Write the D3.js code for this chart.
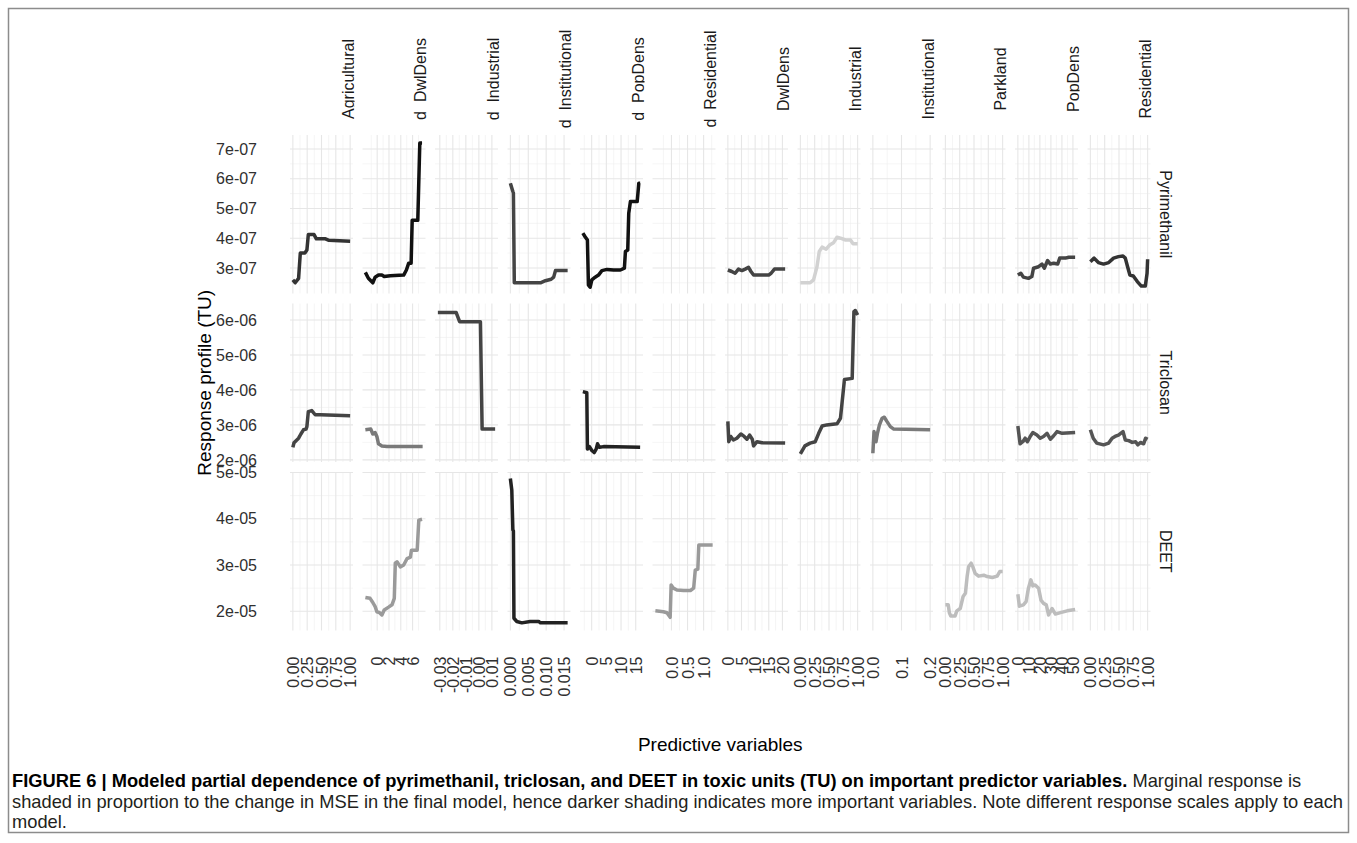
<!DOCTYPE html>
<html><head><meta charset="utf-8">
<script src="https://cdn.jsdelivr.net/npm/d3@7"></script>
<style>body{margin:0;background:#fff}svg{display:block}</style>
</head><body>
<script>
// ---------- categories / labels ----------
const columns = ["Agricultural","d  DwlDens","d  Industrial","d  Institutional","d  PopDens","d  Residential",
                 "DwlDens","Industrial","Institutional","Parkland","PopDens","Residential"];
const rowNames = ["Pyrimethanil","Triclosan","DEET"];

// x data ranges per column (predictor values)
const xRanges = [[0,1],[-2,7.7],[-0.0315,0.0125],[0,0.016],[-3,16.5],[-0.5,1.28],
                 [0,21],[0,1],[0,0.2],[0,1],[0,52],[0,1]];
const xTicks = [[0,0.25,0.5,0.75,1],[0,2,4,6],[-0.03,-0.02,-0.01,0,0.01],[0,0.005,0.01,0.015],[0,5,10,15],[0,0.5,1],
                [0,5,10,15,20],[0,0.25,0.5,0.75,1],[0,0.1,0.2],[0,0.25,0.5,0.75,1],[0,10,20,30,40,50],[0,0.25,0.5,0.75,1]];
const xTickLabels = [["0.00","0.25","0.50","0.75","1.00"],["0","2","4","6"],["-0.03","-0.02","-0.01","0.00","0.01"],
                     ["0.000","0.005","0.010","0.015"],["0","5","10","15"],["0.0","0.5","1.0"],
                     ["0","5","10","15","20"],["0.00","0.25","0.50","0.75","1.00"],["0.0","0.1","0.2"],
                     ["0.00","0.25","0.50","0.75","1.00"],["0","10","20","30","40","50"],["0.00","0.25","0.50","0.75","1.00"]];

// y limits / ticks per row (response, TU)
const yLimits = [[2.14e-7,7.47e-7],[1.94e-6,6.47e-6],[1.585e-5,5.01e-5]];
const yTicks = [[3e-7,4e-7,5e-7,6e-7,7e-7],[2e-6,3e-6,4e-6,5e-6,6e-6],[2e-5,3e-5,4e-5,5e-5]];
const yTickLabels = [["3e-07","4e-07","5e-07","6e-07","7e-07"],["2e-06","3e-06","4e-06","5e-06","6e-06"],["2e-05","3e-05","4e-05","5e-05"]];

// ---------- series values ----------
// Pyrimethanil
const pyrAgricultural_x = [0,0.04,0.1,0.13,0.21,0.245,0.27,0.37,0.41,0.57,0.63,1.0];
const pyrAgricultural_y = [2.6e-7,2.5e-7,2.65e-7,3.5e-7,3.5e-7,3.6e-7,4.12e-7,4.12e-7,3.98e-7,3.98e-7,3.93e-7,3.9e-7];
const pyrdDwlDens_x = [-2,-1.49,-0.74,-0.34,0.22,0.8,1.19,2.22,4.49,4.95,5.34,5.75,5.93,6.88,7.22,7.6];
const pyrdDwlDens_y = [2.85e-7,2.65e-7,2.5e-7,2.69e-7,2.76e-7,2.76e-7,2.71e-7,2.74e-7,2.76e-7,2.93e-7,3.16e-7,3.16e-7,4.6e-7,4.6e-7,7.2e-7,7.2e-7];
const pyrdInstitutional_x = [0,0.0007,0.00085,0.0011,0.0084,0.0098,0.0114,0.0121,0.0126,0.016];
const pyrdInstitutional_y = [5.85e-7,5.57e-7,5.52e-7,2.5e-7,2.5e-7,2.57e-7,2.62e-7,2.69e-7,2.91e-7,2.91e-7];
const pyrdPopDens_x = [-3,-2.24,-1.45,-1.11,-0.53,0.06,1.19,2.32,3.49,5.2,7.47,9.77,11.14,11.49,12.28,12.62,13.2,15.5,16.05,16.5];
const pyrdPopDens_y = [4.17e-7,4.05e-7,3.94e-7,2.43e-7,2.35e-7,2.6e-7,2.69e-7,2.76e-7,2.91e-7,2.95e-7,2.93e-7,2.93e-7,2.99e-7,3.55e-7,3.6e-7,4.84e-7,5.23e-7,5.23e-7,5.85e-7,5.85e-7];
const pyrDwlDens_x = [0,1.44,2.66,3.88,5.14,6.36,7.58,8.47,9.43,14.97,15.86,17.08,21];
const pyrDwlDens_y = [2.93e-7,2.88e-7,2.82e-7,2.96e-7,2.91e-7,2.96e-7,3.02e-7,2.88e-7,2.76e-7,2.76e-7,2.82e-7,2.96e-7,2.96e-7];
const pyrIndustrial_x = [0,0.17,0.23,0.29,0.33,0.38,0.45,0.51,0.58,0.64,0.7,0.79,0.875,0.92,1.0];
const pyrIndustrial_y = [2.5e-7,2.5e-7,2.6e-7,3.04e-7,3.55e-7,3.7e-7,3.63e-7,3.77e-7,3.85e-7,4.03e-7,4.0e-7,3.94e-7,3.94e-7,3.81e-7,3.81e-7];
const pyrPopDens_x = [0,2.7,5,9.6,12.7,14.2,18.8,21.9,24,27,29.5,32.5,36.2,38,43.2,46.2,52];
const pyrPopDens_y = [2.76e-7,2.82e-7,2.69e-7,2.65e-7,2.71e-7,2.99e-7,3.04e-7,3.13e-7,2.99e-7,3.25e-7,3.13e-7,3.16e-7,3.13e-7,3.33e-7,3.33e-7,3.36e-7,3.36e-7];
const pyrResidential_x = [0,0.065,0.14,0.23,0.32,0.405,0.49,0.57,0.61,0.65,0.69,0.75,0.82,0.89,0.96,0.99,1.0];
const pyrResidential_y = [3.21e-7,3.33e-7,3.18e-7,3.13e-7,3.18e-7,3.33e-7,3.38e-7,3.4e-7,3.33e-7,3.04e-7,2.76e-7,2.73e-7,2.54e-7,2.39e-7,2.39e-7,2.82e-7,3.29e-7];
// Triclosan
const triAgricultural_x = [0,0.02,0.056,0.1,0.14,0.185,0.23,0.245,0.27,0.33,0.39,0.48,1.0];
const triAgricultural_y = [2.36e-6,2.49e-6,2.55e-6,2.62e-6,2.74e-6,2.86e-6,2.88e-6,2.95e-6,3.38e-6,3.41e-6,3.29e-6,3.29e-6,3.26e-6];
const tridDwlDens_x = [-2,-1.08,-0.74,-0.34,-0.05,0.22,0.8,1.66,7.7];
const tridDwlDens_y = [2.86e-6,2.88e-6,2.74e-6,2.78e-6,2.67e-6,2.46e-6,2.4e-6,2.38e-6,2.38e-6];
const tridIndustrial_x = [-0.0315,-0.0174,-0.0148,0.0012,0.0025,0.0125];
const tridIndustrial_y = [6.21e-6,6.21e-6,5.95e-6,5.95e-6,2.88e-6,2.88e-6];
const tridPopDens_x = [-3,-1.66,-1.45,-0.77,0.06,0.85,1.53,1.98,2.66,4.04,16.5];
const tridPopDens_y = [3.95e-6,3.92e-6,2.31e-6,2.38e-6,2.27e-6,2.21e-6,2.31e-6,2.46e-6,2.36e-6,2.38e-6,2.36e-6];
const triDwlDens_x = [0,0.33,1.07,2.03,3.29,4.77,5.99,6.99,7.95,8.95,9.43,10.68,12.53,21];
const triDwlDens_y = [3.1e-6,2.52e-6,2.67e-6,2.57e-6,2.62e-6,2.74e-6,2.67e-6,2.59e-6,2.71e-6,2.59e-6,2.4e-6,2.52e-6,2.49e-6,2.48e-6];
const triIndustrial_x = [0,0.08,0.17,0.26,0.32,0.38,0.46,0.64,0.7,0.745,0.77,0.905,0.935,0.96,1.0];
const triIndustrial_y = [2.17e-6,2.4e-6,2.48e-6,2.52e-6,2.76e-6,2.97e-6,3.0e-6,3.03e-6,3.19e-6,3.9e-6,4.3e-6,4.33e-6,6.24e-6,6.27e-6,6.14e-6];
const triInstitutional_x = [0,0.004,0.011,0.016,0.023,0.032,0.04,0.049,0.061,0.073,0.2];
const triInstitutional_y = [2.19e-6,2.81e-6,2.52e-6,2.76e-6,3.0e-6,3.19e-6,3.22e-6,3.1e-6,2.95e-6,2.88e-6,2.86e-6];
const triPopDens_x = [0,2,4.5,6.6,8.7,11.2,13.6,17.3,20.3,23.3,26.5,29.5,32.5,35.6,40.2,52];
const triPopDens_y = [2.97e-6,2.46e-6,2.52e-6,2.62e-6,2.52e-6,2.67e-6,2.78e-6,2.71e-6,2.62e-6,2.67e-6,2.76e-6,2.59e-6,2.69e-6,2.81e-6,2.76e-6,2.78e-6];
const triResidential_x = [0,0.05,0.11,0.23,0.32,0.38,0.43,0.49,0.57,0.61,0.67,0.73,0.79,0.83,0.875,0.93,0.965,1.0];
const triResidential_y = [2.86e-6,2.62e-6,2.48e-6,2.43e-6,2.48e-6,2.62e-6,2.67e-6,2.71e-6,2.81e-6,2.57e-6,2.55e-6,2.5e-6,2.52e-6,2.43e-6,2.5e-6,2.46e-6,2.62e-6,2.59e-6];
// DEET
const deetdDwlDens_x = [-2,-1.2,-0.74,-0.34,-0.05,0.4,0.8,1.19,1.93,2.51,2.9,3.07,3.36,3.92,4.49,5.07,5.63,5.8,6.78,7.05,7.6];
const deetdDwlDens_y = [2.3e-5,2.28e-5,2.19e-5,2.1e-5,1.99e-5,1.97e-5,1.92e-5,2.03e-5,2.09e-5,2.14e-5,2.28e-5,3.04e-5,3.07e-5,2.96e-5,3.0e-5,3.14e-5,3.17e-5,3.32e-5,3.32e-5,3.97e-5,3.99e-5];
const deetdInstitutional_x = [0,0.0004,0.0007,0.00085,0.001,0.0018,0.0032,0.0055,0.0079,0.0084,0.016];
const deetdInstitutional_y = [4.87e-5,4.62e-5,3.76e-5,3.74e-5,1.85e-5,1.78e-5,1.75e-5,1.78e-5,1.78e-5,1.75e-5,1.75e-5];
const deetdResidential_x = [-0.5,-0.25,-0.14,-0.04,-0.01,0.06,0.17,0.38,0.59,0.69,0.74,0.82,0.85,1.28];
const deetdResidential_y = [2.01e-5,1.99e-5,1.97e-5,1.87e-5,2.57e-5,2.5e-5,2.46e-5,2.45e-5,2.45e-5,2.5e-5,2.89e-5,2.91e-5,3.43e-5,3.43e-5];
const deetParkland_x = [0,0.05,0.07,0.095,0.17,0.2,0.26,0.31,0.35,0.38,0.405,0.45,0.48,0.52,0.58,0.67,0.73,0.82,0.905,0.95,1.0];
const deetParkland_y = [2.14e-5,2.14e-5,1.97e-5,1.9e-5,1.9e-5,2.01e-5,2.06e-5,2.32e-5,2.39e-5,2.75e-5,2.96e-5,3.04e-5,2.96e-5,2.82e-5,2.76e-5,2.78e-5,2.75e-5,2.73e-5,2.76e-5,2.86e-5,2.86e-5];
const deetPopDens_x = [0,1.4,5,7.5,9.6,11.8,13.6,15.7,18.8,21,23.3,25.8,27.9,31,34.1,38.6,44.8,52];
const deetPopDens_y = [2.37e-5,2.11e-5,2.14e-5,2.21e-5,2.5e-5,2.68e-5,2.55e-5,2.57e-5,2.5e-5,2.24e-5,2.17e-5,2.14e-5,1.92e-5,2.06e-5,1.94e-5,1.97e-5,2.01e-5,2.04e-5];

// which panel each series belongs to and its importance shade
const series = [
  {row:0,col:0, x:pyrAgricultural_x, y:pyrAgricultural_y, shade:"#333333"},
  {row:0,col:1, x:pyrdDwlDens_x, y:pyrdDwlDens_y, shade:"#111111"},
  {row:0,col:3, x:pyrdInstitutional_x, y:pyrdInstitutional_y, shade:"#444444"},
  {row:0,col:4, x:pyrdPopDens_x, y:pyrdPopDens_y, shade:"#111111"},
  {row:0,col:6, x:pyrDwlDens_x, y:pyrDwlDens_y, shade:"#444444"},
  {row:0,col:7, x:pyrIndustrial_x, y:pyrIndustrial_y, shade:"#d2d2d2"},
  {row:0,col:10, x:pyrPopDens_x, y:pyrPopDens_y, shade:"#444444"},
  {row:0,col:11, x:pyrResidential_x, y:pyrResidential_y, shade:"#333333"},
  {row:1,col:0, x:triAgricultural_x, y:triAgricultural_y, shade:"#444444"},
  {row:1,col:1, x:tridDwlDens_x, y:tridDwlDens_y, shade:"#7a7a7a"},
  {row:1,col:2, x:tridIndustrial_x, y:tridIndustrial_y, shade:"#444444"},
  {row:1,col:4, x:tridPopDens_x, y:tridPopDens_y, shade:"#222222"},
  {row:1,col:6, x:triDwlDens_x, y:triDwlDens_y, shade:"#444444"},
  {row:1,col:7, x:triIndustrial_x, y:triIndustrial_y, shade:"#444444"},
  {row:1,col:8, x:triInstitutional_x, y:triInstitutional_y, shade:"#7a7a7a"},
  {row:1,col:10, x:triPopDens_x, y:triPopDens_y, shade:"#555555"},
  {row:1,col:11, x:triResidential_x, y:triResidential_y, shade:"#555555"},
  {row:2,col:1, x:deetdDwlDens_x, y:deetdDwlDens_y, shade:"#9a9a9a"},
  {row:2,col:3, x:deetdInstitutional_x, y:deetdInstitutional_y, shade:"#222222"},
  {row:2,col:5, x:deetdResidential_x, y:deetdResidential_y, shade:"#9a9a9a"},
  {row:2,col:9, x:deetParkland_x, y:deetParkland_y, shade:"#bdbdbd"},
  {row:2,col:10, x:deetPopDens_x, y:deetPopDens_y, shade:"#bdbdbd"}
];

const captionBold = "FIGURE 6 | Modeled partial dependence of pyrimethanil, triclosan, and DEET in toxic units (TU) on important predictor variables.";
const captionLines = [" Marginal response is",
  "shaded in proportion to the change in MSE in the final model, hence darker shading indicates more important variables. Note different response scales apply to each",
  "model."];

// ---------- layout ----------
const W = 1357, H = 843;
const FONT = "'Liberation Sans', Arial, Helvetica, sans-serif";
const panelLeft = 290, colPitch = 72.5, panelW = 63;
const panelTop = 135, rowH = 158.5, rowGap = 10;
const colX = c => panelLeft + c*colPitch;
const rowY = r => panelTop + r*(rowH+rowGap);

const svg = d3.select("body").append("svg").attr("width", W).attr("height", H)
  .style("font-family", FONT);
svg.append("rect").attr("width", W).attr("height", H).attr("fill", "#fff");
svg.append("rect").attr("x", 8.5).attr("y", 8.5).attr("width", 1340).attr("height", 824)
  .attr("fill", "none").attr("stroke", "#8c8c8c").attr("stroke-width", 1.5);

const expand = r => { const d = r[1]-r[0]; return [r[0]-0.05*d, r[1]+0.05*d]; };
const xScales = columns.map((_, c) => d3.scaleLinear().domain(expand(xRanges[c])).range([colX(c), colX(c)+panelW]));
const yScales = rowNames.map((_, r) => d3.scaleLinear().domain(yLimits[r]).range([rowY(r)+rowH, rowY(r)]));

function minorBreaks(ticks, dom) {
  const s = ticks[1]-ticks[0], out = [];
  for (let k = -2; k <= ticks.length+1; k++) {
    const v = ticks[0] + (k+0.5)*s;
    if (v >= Math.min(...dom) && v <= Math.max(...dom)) out.push(v);
  }
  return out;
}

const grid = svg.append("g");
rowNames.forEach((_, r) => {
  columns.forEach((_, c) => {
    const xs = xScales[c], ys = yScales[r];
    const x0 = colX(c), x1 = colX(c)+panelW, y0 = rowY(r), y1 = rowY(r)+rowH;
    const g = grid.append("g");
    const xMin = minorBreaks(xTicks[c], xs.domain()), yMin = minorBreaks(yTicks[r], ys.domain());
    g.selectAll(".vmin").data(xMin).join("line").attr("x1", d=>xs(d)).attr("x2", d=>xs(d)).attr("y1", y0).attr("y2", y1)
      .attr("stroke", "#eeeeee").attr("stroke-width", 0.6);
    g.selectAll(".hmin").data(yMin).join("line").attr("y1", d=>ys(d)).attr("y2", d=>ys(d)).attr("x1", x0).attr("x2", x1)
      .attr("stroke", "#eeeeee").attr("stroke-width", 0.6);
    g.selectAll(".vmaj").data(xTicks[c]).join("line").attr("x1", d=>xs(d)).attr("x2", d=>xs(d)).attr("y1", y0).attr("y2", y1)
      .attr("stroke", "#e6e6e6").attr("stroke-width", 1.1);
    g.selectAll(".hmaj").data(yTicks[r]).join("line").attr("y1", d=>ys(d)).attr("y2", d=>ys(d)).attr("x1", x0).attr("x2", x1)
      .attr("stroke", "#e6e6e6").attr("stroke-width", 1.1);
  });
});

// lines
const lineG = svg.append("g");
series.forEach(s => {
  const xs = xScales[s.col], ys = yScales[s.row];
  const pts = s.x.map((v, i) => [v, s.y[i]]);
  const gen = d3.line().x(d => xs(d[0])).y(d => ys(d[1]));
  lineG.append("path").attr("d", gen(pts)).attr("fill", "none").attr("stroke", s.shade)
    .attr("stroke-width", 3.5).attr("stroke-linejoin", "round").attr("stroke-linecap", "butt");
});

// y axes
rowNames.forEach((_, r) => {
  const ax = d3.axisLeft(yScales[r]).tickValues(yTicks[r]).tickFormat((d, i) => yTickLabels[r][i])
    .tickSize(0).tickPadding(33);
  const g = svg.append("g").attr("transform", `translate(${panelLeft},0)`).call(ax);
  g.select(".domain").remove();
  g.selectAll("text").attr("fill", "#303030").style("font-size", "16px").style("font-family", FONT);
});

// x axes (bottom row)
const xAxisY = rowY(2) + rowH;
columns.forEach((_, c) => {
  const ax = d3.axisBottom(xScales[c]).tickValues(xTicks[c]).tickFormat((d, i) => xTickLabels[c][i]).tickSize(0);
  const g = svg.append("g").attr("transform", `translate(0,${xAxisY})`).call(ax);
  g.select(".domain").remove();
  g.selectAll("text").attr("transform", "rotate(-90)").attr("x", -26).attr("y", 0).attr("dy", "0.35em")
    .attr("text-anchor", "end").attr("fill", "#303030").style("font-size", "16px").style("font-family", FONT);
});

// top strips (clipped)
const defs = svg.append("defs");
columns.forEach((name, c) => {
  defs.append("clipPath").attr("id", "strip" + c).append("rect")
    .attr("x", colX(c)).attr("y", 12).attr("width", panelW + 1.5).attr("height", 120);
  svg.append("g").attr("clip-path", `url(#strip${c})`).append("text")
    .attr("transform", `translate(${colX(c)+panelW+0.5},79) rotate(-90)`)
    .attr("text-anchor", "middle").style("white-space", "pre").attr("fill", "#1a1a1a")
    .style("font-size", "16px").text(name);
});

// right strips
rowNames.forEach((name, r) => {
  svg.append("text").attr("transform", `translate(1160,${rowY(r)+rowH/2}) rotate(90)`)
    .attr("text-anchor", "middle").attr("fill", "#1a1a1a").style("font-size", "16px").text(name);
});

// axis titles
svg.append("text").attr("transform", `translate(211,${(rowY(0)+rowY(2)+rowH)/2}) rotate(-90)`)
  .attr("text-anchor", "middle").attr("fill", "#000").style("font-size", "19px").text("Response profile (TU)");
svg.append("text").attr("x", (colX(0)+colX(11)+panelW)/2).attr("y", 751)
  .attr("text-anchor", "middle").attr("fill", "#000").style("font-size", "19px").text("Predictive variables");

// caption
const capG = svg.append("g").attr("fill", "#231f20");
const probe = capG.append("text").style("font-size", "17px").text(captionLines[1]);
const w2 = probe.node().getComputedTextLength();
probe.remove();
const capFs = 17 * 1332 / w2;
const l1 = capG.append("text").attr("x", 12).attr("y", 787).style("font-size", capFs + "px");
l1.append("tspan").attr("font-weight", "bold").attr("fill", "#000").text(captionBold);
l1.append("tspan").style("white-space", "pre").text(captionLines[0]);
capG.append("text").attr("x", 12).attr("y", 808).style("font-size", capFs + "px").text(captionLines[1]);
capG.append("text").attr("x", 12).attr("y", 828).style("font-size", capFs + "px").text(captionLines[2]);
</script>
</body></html>
